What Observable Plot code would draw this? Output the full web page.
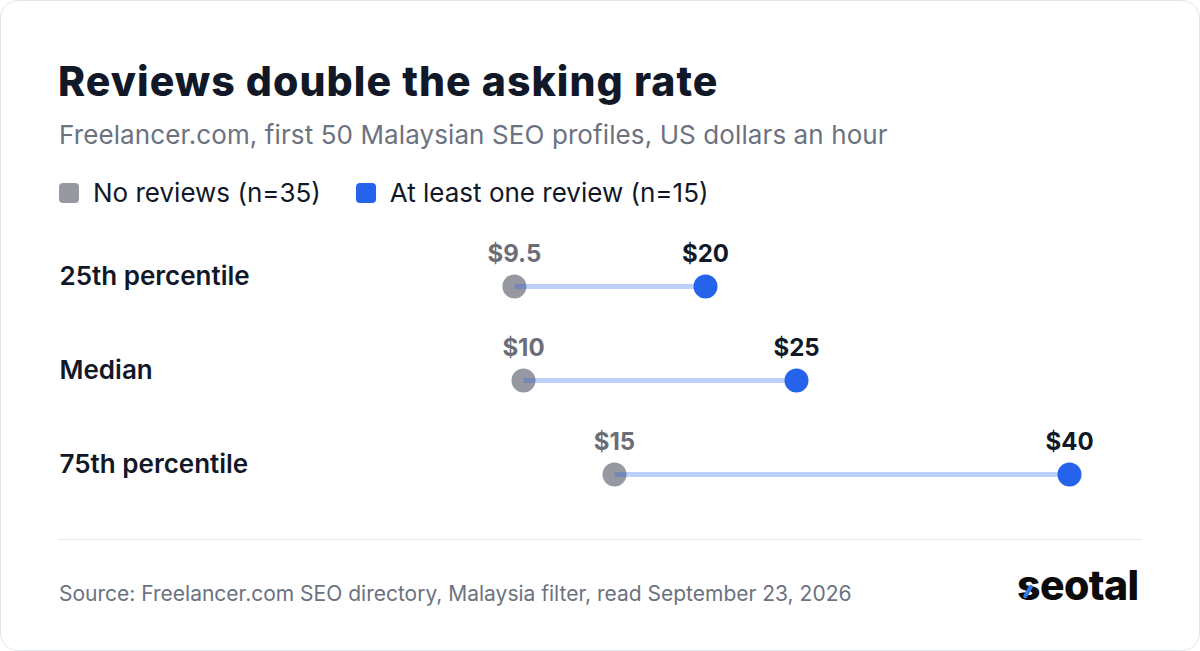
<!DOCTYPE html>
<html>
<head>
<meta charset="utf-8">
<script src="https://cdn.jsdelivr.net/npm/d3@7"></script>
<script src="https://cdn.jsdelivr.net/npm/@observablehq/plot@0.6"></script>
<style>
  html, body { margin: 0; padding: 0; background: #fff; }
  body { width: 1200px; height: 651px; position: relative; overflow: hidden; font-family: Inter, "Noto Sans", sans-serif; }
  .card { position: absolute; left: 0; top: 0; width: 1200px; height: 651px; box-sizing: border-box; border: 1.5px solid #e2e5ea; border-radius: 18px; }
  .title { position: absolute; left: 58px; top: 56px; font-size: 41px; font-weight: 800; color: #111827; letter-spacing: 1.05px; line-height: 50px; }
  .subtitle { position: absolute; left: 59px; top: 119px; font-size: 26px; color: #6b7280; line-height: 32px; letter-spacing: 0.1px; }
  .legend { position: absolute; left: 59px; top: 177px; display: flex; align-items: center; font-size: 26px; color: #111827; line-height: 32px; }
  .legend .sw { width: 20px; height: 20px; border-radius: 4px; margin-right: 14px; }
  .legend .item { display: flex; align-items: center; margin-right: 35px; }
  #chart { position: absolute; left: 0; top: 220px; }
  .divider { position: absolute; left: 58px; right: 58px; top: 539px; height: 0; border-top: 1.5px solid #e5e7eb; }
  .footer { position: absolute; left: 59px; top: 581px; font-size: 21px; color: #6b7280; line-height: 26px; }
  .logo { position: absolute; left: 1017px; top: 560px; font-size: 41px; font-weight: 800; color: #0b0b0b; letter-spacing: -0.6px; line-height: 50px; }
  .logo .slash { position: absolute; left: 9px; top: 24px; width: 4px; height: 15px; background: #2f7bf0; transform: rotate(30deg); border-radius: 2px; }
</style>
</head>
<body>
<div class="card"></div>
<div class="title">Reviews double the asking rate</div>
<div class="subtitle">Freelancer.com, first 50 Malaysian SEO profiles, US dollars an hour</div>
<div class="legend" id="legend"></div>
<div id="chart"></div>
<div class="divider"></div>
<div class="footer">Source: Freelancer.com SEO directory, Malaysia filter, read September 23, 2026</div>
<div class="logo">seotal<span class="slash"></span></div>
<script>
const categories = ["25th percentile", "Median", "75th percentile"];
const noReviews = [9.5, 10, 15];
const withReviews = [20, 25, 40];
const seriesNames = ["No reviews (n=35)", "At least one review (n=15)"];
const seriesColors = ["#9699a1", "#2563eb"];

const legend = document.getElementById("legend");
seriesNames.forEach((n, i) => {
  const it = document.createElement("div");
  it.className = "item";
  it.innerHTML = `<span class="sw" style="background:${seriesColors[i]}"></span><span>${n}</span>`;
  legend.appendChild(it);
});

const rows = categories.map((c, i) => ({cat: c, lo: noReviews[i], hi: withReviews[i]}));
const fmt = v => "$" + v;

const chart = Plot.plot({
  width: 1200,
  height: 300,
  marginLeft: 341,
  marginRight: 131,
  marginTop: 65,
  marginBottom: 46,
  x: {domain: [0, 40], axis: null},
  y: {type: "point", domain: categories, padding: 0, axis: null},
  style: {fontFamily: "Inter, 'Noto Sans', sans-serif", background: "transparent"},
  marks: [
    Plot.dot(rows, {x: "lo", y: "cat", r: 12, fill: seriesColors[0]}),
    Plot.link(rows, {x1: "lo", x2: "hi", y1: "cat", y2: "cat", stroke: seriesColors[1], strokeOpacity: 0.3, strokeWidth: 5}),
    Plot.dot(rows, {x: "hi", y: "cat", r: 12, fill: seriesColors[1]}),
    Plot.text(rows, {x: "lo", y: "cat", text: d => fmt(d.lo), dy: -32, fontSize: 24, fontWeight: 700, fill: "#6b6e77"}),
    Plot.text(rows, {x: "hi", y: "cat", text: d => fmt(d.hi), dy: -32, fontSize: 24, fontWeight: 700, fill: "#111827"}),
    Plot.text(rows, {frameAnchor: "left", y: "cat", text: "cat", dx: -282, dy: -10, textAnchor: "start", fontSize: 26, fontWeight: 600, fill: "#111827"})
  ]
});
document.getElementById("chart").appendChild(chart);
</script>
</body>
</html>
